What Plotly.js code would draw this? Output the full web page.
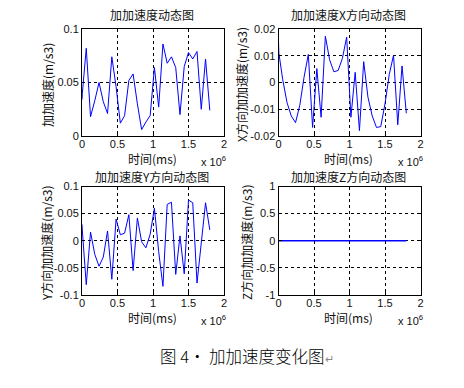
<!DOCTYPE html>
<html><head><meta charset="utf-8">
<script src="https://cdn.plot.ly/plotly-3.0.1.min.js"></script>
<style>html,body{margin:0;padding:0;background:#fff;}#chart{width:464px;height:388px;}</style>
</head><body><div id="chart"></div>
<script>
// time in units of 10^6 ms
const timeE6 = [0,0.005,0.06,0.12,0.18,0.24,0.30,0.36,0.42,0.48,0.54,0.60,0.66,0.72,0.78,0.84,0.90,0.96,1.02,1.08,1.14,1.20,1.26,1.32,1.38,1.44,1.50,1.56,1.62,1.68,1.74,1.80];
const jerkTotal = [0.034,0.040,0.082,0.018,0.033,0.050,0.032,0.021,0.074,0.046,0.012,0.019,0.052,0.058,0.030,0.006,0.013,0.019,0.064,0.027,0.086,0.068,0.074,0.064,0.020,0.065,0.078,0.072,0.079,0.025,0.072,0.024];
const jerkX = [0.0152,0.011,0.001,-0.0075,-0.0125,-0.015,-0.0085,0.002,0.0105,-0.0168,0.0052,-0.013,0.0173,0.0085,0.004,0.0045,0.009,0.017,-0.013,0.0038,-0.018,0.0078,-0.0055,-0.0125,-0.0168,-0.0165,-0.008,0.003,0.0102,-0.0158,0.0062,-0.0115];
const jerkY = [0.030,0.018,-0.081,0.016,-0.025,-0.047,-0.030,0.018,-0.071,0.040,0.011,0.014,0.048,-0.055,0.042,-0.002,-0.013,0.012,0.060,-0.020,-0.084,0.067,0.071,-0.062,0.009,-0.061,0.075,0.070,-0.078,-0.005,0.070,0.020];
const jerkZ = [0,0,0,0,0,0,0,0,0,0,0,0,0,0,0,0,0,0,0,0,0,0,0,0,0,0,0,0,0,0,0,0];

const xTicks = [0,0.5,1,1.5,2];
const xTickText = ['0','0.5','1','1.5','2'];
const yTicksTotal = [0,0.05,0.1];
const yTickTextTotal = ['0','0.05','0.1'];
const yTicksX = [-0.02,-0.01,0,0.01,0.02];
const yTickTextX = ['-0.02','-0.01','0','0.01','0.02'];
const yTicksY = [-0.1,-0.05,0,0.05,0.1];
const yTickTextY = ['-0.1','-0.05','0','0.05','0.1'];
const yTicksZ = [-1,-0.5,0,0.5,1];
const yTickTextZ = ['-1','-0.5','0','0.5','1'];

const titles = ['加加速度动态图','加加速度X方向动态图','加加速度Y方向动态图','加加速度Z方向动态图'];
const yTitles = ['加加速度(m/s3)','X方向加加速度(m/s3)','Y方向加加速度(m/s3)','Z方向加加速度(m/s3)'];
const xTitle = '时间(ms)';
const caption = '图 4· 加加速度变化图';

const W = 464, H = 388;
const px = v => v / W;
const py = v => 1 - v / H;
const tickFont = {family:'Liberation Sans, Arial, sans-serif', size:11, color:'#111'};
const cjk = 'Noto Sans CJK SC, sans-serif';

function xa(domain, anchor){
  return {domain:domain, anchor:anchor, range:[0,2], tickvals:xTicks, ticktext:xTickText,
    showgrid:true, gridcolor:'#000', griddash:'dot', gridwidth:1,
    showline:true, linecolor:'#000', linewidth:1, mirror:'ticks',
    ticks:'inside', ticklen:3, tickcolor:'#000', zeroline:false, tickfont:tickFont,
    ticklabelstandoff:-2, fixedrange:true};
}
function ya(domain, anchor, range, tv, tt){
  return {domain:domain, anchor:anchor, range:range, tickvals:tv, ticktext:tt,
    showgrid:true, gridcolor:'#000', griddash:'dot', gridwidth:1,
    showline:true, linecolor:'#000', linewidth:1, mirror:'ticks',
    ticks:'inside', ticklen:3, tickcolor:'#000', zeroline:false, tickfont:tickFont, fixedrange:true};
}
const dxL = [px(82), px(224)], dxR = [px(278.5), px(420.5)];
const dyT = [py(136), py(29)], dyB = [py(295), py(186.5)];

const line = {color:'#0000ff', width:1};
const data = [
  {x:timeE6, y:jerkTotal, type:'scatter', mode:'lines', line:line, xaxis:'x', yaxis:'y'},
  {x:timeE6, y:jerkX, type:'scatter', mode:'lines', line:line, xaxis:'x2', yaxis:'y2'},
  {x:timeE6, y:jerkY, type:'scatter', mode:'lines', line:line, xaxis:'x3', yaxis:'y3'},
  {x:timeE6, y:jerkZ, type:'scatter', mode:'lines', line:{color:'#0000ff', width:1.5}, xaxis:'x4', yaxis:'y4'}
];

const ann = [];
function txt(t, x, y, opts){
  ann.push(Object.assign({text:t, x:px(x), y:py(y), xref:'paper', yref:'paper', showarrow:false,
    xanchor:'center', yanchor:'middle', font:{family:cjk, size:12, color:'#111'}}, opts||{}));
}
txt(titles[0], 152, 15);
txt(titles[1], 348, 15);
txt(titles[2], 152, 176.5);
txt(titles[3], 348, 176.5);
txt(xTitle, 152, 158.5);
txt(xTitle, 348.5, 158.5);
txt(xTitle, 152, 317.5);
txt(xTitle, 348.5, 317.5);
txt(yTitles[0], 47, 85, {textangle:-90});
txt(yTitles[1], 241, 85, {textangle:-90});
txt(yTitles[2], 46, 243, {textangle:-90});
txt(yTitles[3], 246, 243, {textangle:-90});
const expFont = {family:'Liberation Sans, Arial, sans-serif', size:11, color:'#111'};
txt('x 10<sup>6</sup>', 199, 161, {xanchor:'left', font:expFont});
txt('x 10<sup>6</sup>', 396, 161, {xanchor:'left', font:expFont});
txt('x 10<sup>6</sup>', 199, 320, {xanchor:'left', font:expFont});
txt('x 10<sup>6</sup>', 396, 320, {xanchor:'left', font:expFont});
txt(caption + '<span style="color:#888;font-size:11px">↵</span>', 158, 356, {xanchor:'left', font:{family:cjk, size:16.5, color:'#000', weight:300}});

const layout = {
  width:W, height:H, margin:{l:0,r:0,t:0,b:0}, showlegend:false,
  paper_bgcolor:'#fff', plot_bgcolor:'#fff',
  xaxis:xa(dxL,'y'), yaxis:ya(dyT,'x',[0,0.1],yTicksTotal,yTickTextTotal),
  xaxis2:xa(dxR,'y2'), yaxis2:ya(dyT,'x2',[-0.02,0.02],yTicksX,yTickTextX),
  xaxis3:xa(dxL,'y3'), yaxis3:ya(dyB,'x3',[-0.1,0.1],yTicksY,yTickTextY),
  xaxis4:xa(dxR,'y4'), yaxis4:ya(dyB,'x4',[-1,1],yTicksZ,yTickTextZ),
  annotations:ann
};
Plotly.newPlot('chart', data, layout, {staticPlot:true, displayModeBar:false});
</script>
</body></html>
